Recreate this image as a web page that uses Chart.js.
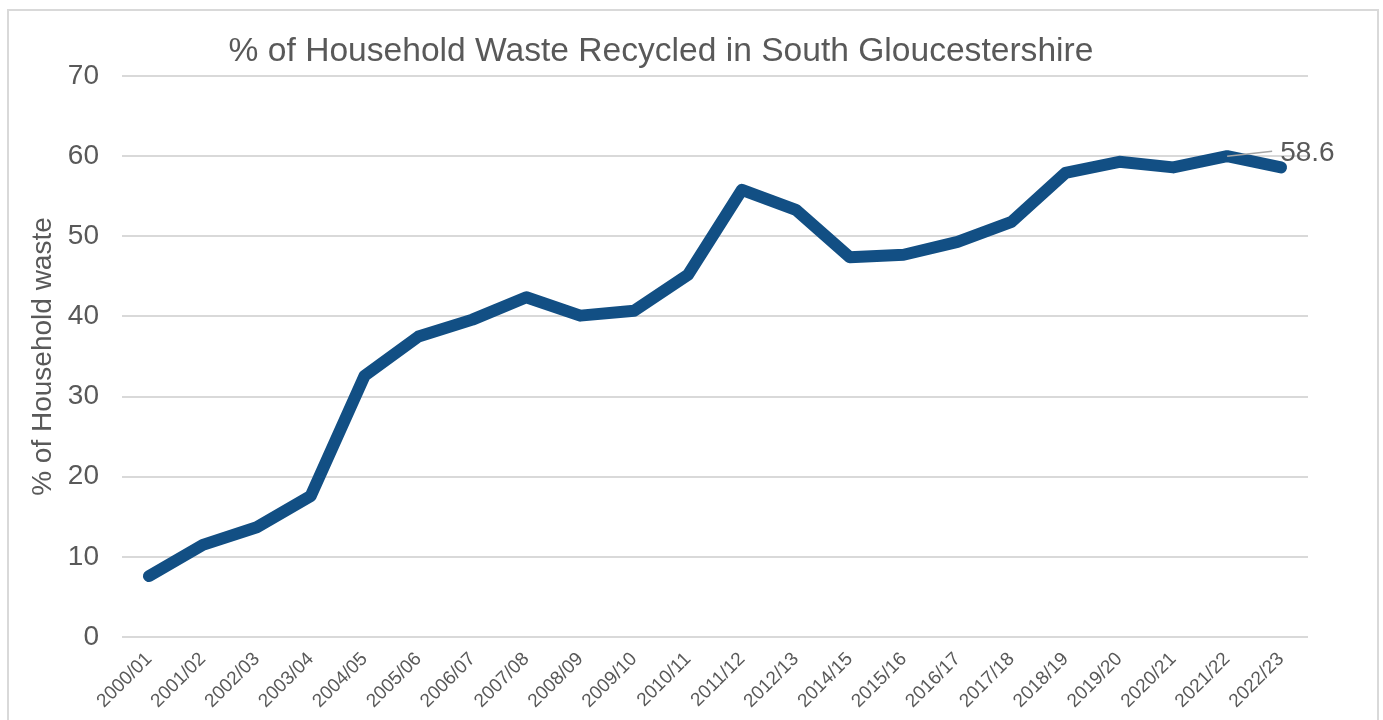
<!DOCTYPE html>
<html>
<head>
<meta charset="utf-8">
<script src="https://cdn.jsdelivr.net/npm/chart.js@4/dist/chart.umd.min.js"></script>
<style>
  body { margin: 0; background: #fff; }
  #wrap { position: relative; width: 1383px; height: 720px; }
  #frame { position: absolute; left: 7px; top: 9px; width: 1368px; height: 730px; border: 2px solid #d9d9d9; }
  canvas { position: absolute; left: 0; top: 0; }
</style>
</head>
<body>
<div id="wrap">
  <div id="frame"></div>
  <canvas id="myChart" width="1383" height="720"></canvas>
</div>
<script>
// Data dari grafik
const years = ['2000/01', '2001/02', '2002/03', '2003/04', '2004/05', '2005/06', '2006/07', '2007/08',
  '2008/09', '2009/10', '2010/11', '2011/12', '2012/13', '2014/15', '2015/16', '2016/17',
  '2017/18', '2018/19', '2019/20', '2020/21', '2021/22', '2022/23'];
const recycled = [7.6, 11.5, 13.7, 17.6, 32.6, 37.5, 39.6, 42.4, 40.1, 40.7, 45.2, 55.8,
  53.3, 47.4, 47.7, 49.3, 51.8, 57.9, 59.3, 58.6, 60.0, 58.6];
const yTicks = [0, 10, 20, 30, 40, 50, 60, 70];

const grey = '#595959';
const font = 'Liberation Sans, Arial, sans-serif';

// Label 58.6 dengan garis penunjuk
const lastLabel = {
  id: 'lastLabel',
  afterDatasetsDraw(chart) {
    const meta = chart.getDatasetMeta(0);
    const pt = meta.data[meta.data.length - 2];
    const c = chart.ctx;
    c.save();
    c.strokeStyle = '#a6a6a6';
    c.lineWidth = 1.5;
    c.beginPath();
    c.moveTo(pt.x, pt.y);
    c.lineTo(pt.x + 45, pt.y - 5);
    c.stroke();
    c.fillStyle = grey;
    c.font = '28px ' + font;
    c.textAlign = 'left';
    c.textBaseline = 'middle';
    c.fillText(recycled[recycled.length - 1].toFixed(1), pt.x + 53, pt.y - 3);
    c.restore();
  }
};

const ctx = document.getElementById('myChart').getContext('2d');

new Chart(ctx, {
  type: 'line',
  data: {
    labels: years,
    datasets: [{
      label: '% recycled',
      data: recycled,
      borderColor: '#124F84',
      borderWidth: 12,
      borderCapStyle: 'round',
      borderJoinStyle: 'round',
      pointRadius: 0,
      tension: 0,
      clip: false
    }]
  },
  options: {
    responsive: false,
    animation: false,
    layout: { padding: { left: 14, right: 75, top: 12, bottom: 0 } },
    plugins: {
      legend: { display: false },
      tooltip: { enabled: false },
      title: {
        display: true,
        text: '% of Household Waste Recycled in South Gloucestershire',
        color: grey,
        font: { family: font, size: 33.6, weight: 'normal', lineHeight: 1.2 },
        padding: { top: 20, bottom: 3.7 }
      }
    },
    scales: {
      x: {
        offset: true,
        grid: { display: false, drawTicks: false },
        border: { display: false },
        ticks: {
          color: grey,
          font: { family: font, size: 19 },
          minRotation: 45,
          maxRotation: 45,
          autoSkip: false,
          padding: 11
        },
        afterFit(scale) { scale.height = 83; }
      },
      y: {
        min: 0,
        max: 70,
        afterBuildTicks(scale) { scale.ticks = yTicks.map(v => ({ value: v })); },
        grid: { color: '#d9d9d9', lineWidth: 2, drawTicks: false },
        border: { display: false },
        ticks: {
          color: grey,
          font: { family: font, size: 28 },
          padding: 23
        },
        title: {
          display: true,
          text: '% of Household waste',
          color: grey,
          font: { family: font, size: 28, lineHeight: 1.2 },
          padding: { top: 12, bottom: 0 }
        },
        afterFit(scale) { scale.width = 108; }
      }
    }
  },
  plugins: [lastLabel]
});
</script>
</body>
</html>
